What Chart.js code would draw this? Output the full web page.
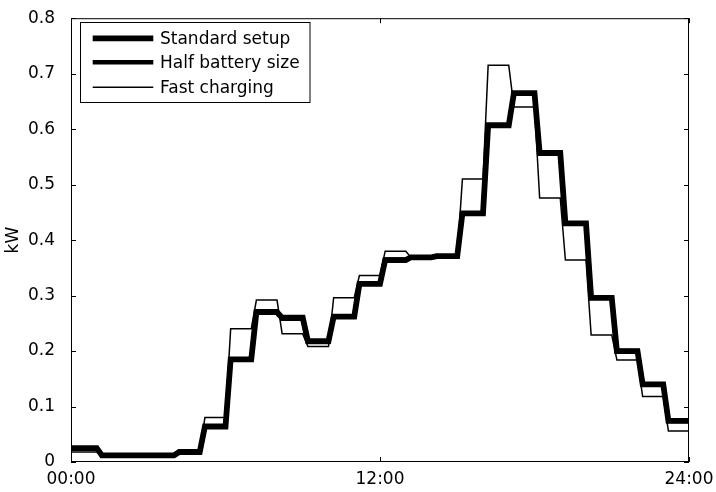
<!DOCTYPE html>
<html>
<head>
<meta charset="utf-8">
<script src="https://cdn.jsdelivr.net/npm/chart.js@4"></script>
<style>
  body { margin: 0; background: #fff; }
  canvas { display: block; }
</style>
</head>
<body>
<canvas id="LoadChart" width="716" height="492"></canvas>
<script>
// hourly mean load (kW), one value per hour 00-23
var hours = [0,1,2,3,4,5,6,7,8,9,10,11,12,13,14,15,16,17,18,19,20,21,22,23];
var standard_setup = [0.025,0.012,0.012,0.012,0.018,0.064,0.185,0.270,0.260,0.218,0.262,0.321,0.364,0.369,0.371,0.448,0.607,0.665,0.557,0.430,0.296,0.200,0.140,0.074];
var half_battery   = [0.024,0.012,0.012,0.012,0.018,0.064,0.185,0.272,0.258,0.216,0.262,0.322,0.365,0.369,0.371,0.448,0.607,0.665,0.557,0.430,0.296,0.200,0.140,0.074];
var fast_charging  = [0.018,0.011,0.011,0.011,0.018,0.080,0.240,0.292,0.231,0.208,0.296,0.336,0.380,0.369,0.371,0.510,0.715,0.640,0.476,0.364,0.229,0.184,0.118,0.056];
var series_names = ['Standard setup', 'Half battery size', 'Fast charging'];
var x_tick_values = [0, 12, 24];
var x_tick_labels = ['00:00', '12:00', '24:00'];
var y_tick_values = [0, 0.1, 0.2, 0.3, 0.4, 0.5, 0.6, 0.7, 0.8];

var ramp = 0.2; // the change to the next hour's value takes a short moment

function steppoints(vals) {
    var pts = [];
    for (let h = 0; h < hours.length; h++) {
        pts.push({x: hours[h] + (h == 0 ? 0 : ramp), y: vals[h]});
        pts.push({x: hours[h] + 1, y: vals[h]});
    }
    return pts;
}

var fontfamily = '"DejaVu Sans", sans-serif';

// box, inward ticks and legend like the old plot
var framePlugin = {
    id: 'frame',
    afterDatasetsDraw: function (chart) {
        const ctx = chart.ctx;
        const a = chart.chartArea;
        const xs = chart.scales.x;
        const ys = chart.scales.y;
        ctx.save();
        ctx.strokeStyle = '#000';
        ctx.lineWidth = 1;
        ctx.strokeRect(a.left + 0.5, a.top + 0.5, a.right - a.left - 1, a.bottom - a.top - 1);
        ctx.beginPath();
        for (let i = 0; i < y_tick_values.length; i++) {
            let py = Math.round(ys.getPixelForValue(y_tick_values[i])) + 0.5;
            ctx.moveTo(a.left, py); ctx.lineTo(a.left + 5, py);
            ctx.moveTo(a.right, py); ctx.lineTo(a.right - 5, py);
        }
        for (let i = 0; i < x_tick_values.length; i++) {
            let px = Math.round(xs.getPixelForValue(x_tick_values[i])) + 0.5;
            ctx.moveTo(px, a.bottom); ctx.lineTo(px, a.bottom - 5);
            ctx.moveTo(px, a.top); ctx.lineTo(px, a.top + 5);
        }
        ctx.stroke();

        // legend
        const lx = 80.5, ly = 22.5, lw = 229.5, lh = 80;
        ctx.fillStyle = '#fff';
        ctx.fillRect(lx, ly, lw, lh);
        ctx.strokeRect(lx, ly, lw, lh);
        const rows = [38.3, 62.3, 87.3];
        ctx.font = '17px ' + fontfamily;
        ctx.textBaseline = 'middle';
        ctx.textAlign = 'left';
        chart.data.datasets.forEach(function (ds, i) {
            ctx.beginPath();
            ctx.lineWidth = ds.borderWidth;
            ctx.lineCap = 'butt';
            ctx.moveTo(92.7, rows[i]);
            ctx.lineTo(153.3, rows[i]);
            ctx.stroke();
            ctx.fillStyle = '#000';
            ctx.fillText(ds.label, 160, rows[i] + 1);
        });
        ctx.restore();
    }
};

var dataformat = {
    borderColor: '#000',
    backgroundColor: '#000',
    pointRadius: 0,
    tension: 0,
    fill: false,
    borderJoinStyle: 'miter',
    borderCapStyle: 'butt'
};

var ds1 = { ...dataformat, label: series_names[0], data: steppoints(standard_setup), borderWidth: 5.8, order: 3 };
var ds2 = { ...dataformat, label: series_names[1], data: steppoints(half_battery), borderWidth: 4.4, order: 2 };
var ds3 = { ...dataformat, label: series_names[2], data: steppoints(fast_charging), borderWidth: 1.5, order: 1 };

var LoadChart = new Chart(document.getElementById('LoadChart'), {
    type: 'line',
    data: { datasets: [ds1, ds2, ds3] },
    plugins: [framePlugin],
    options: {
        responsive: false,
        animation: false,
        devicePixelRatio: 1,
        layout: { padding: { left: 0, right: 27, top: 12, bottom: 0 } },
        plugins: {
            legend: { display: false },
            tooltip: { enabled: false }
        },
        scales: {
            x: {
                type: 'linear',
                min: 0,
                max: 24,
                border: { display: false },
                grid: { display: false },
                afterBuildTicks: function (scale) {
                    scale.ticks = x_tick_values.map(v => ({ value: v }));
                },
                afterFit: function (scale) { scale.height = 30; },
                ticks: {
                    maxRotation: 0,
                    autoSkip: false,
                    padding: -1,
                    color: '#000',
                    font: { family: fontfamily, size: 17 },
                    callback: function (v) { return x_tick_labels[x_tick_values.indexOf(v)]; }
                }
            },
            y: {
                min: 0,
                max: 0.8,
                border: { display: false },
                grid: { display: false },
                afterBuildTicks: function (scale) {
                    scale.ticks = y_tick_values.map(v => ({ value: v }));
                },
                afterFit: function (scale) { scale.width = 71; },
                title: {
                    display: true,
                    text: 'kW',
                    color: '#000',
                    padding: { top: 3, bottom: 0 },
                    font: { family: fontfamily, size: 17 }
                },
                ticks: {
                    padding: 8,
                    color: '#000',
                    font: { family: fontfamily, size: 17 },
                    callback: function (v) { return String(+v.toFixed(1)); }
                }
            }
        }
    }
});
</script>
</body>
</html>
